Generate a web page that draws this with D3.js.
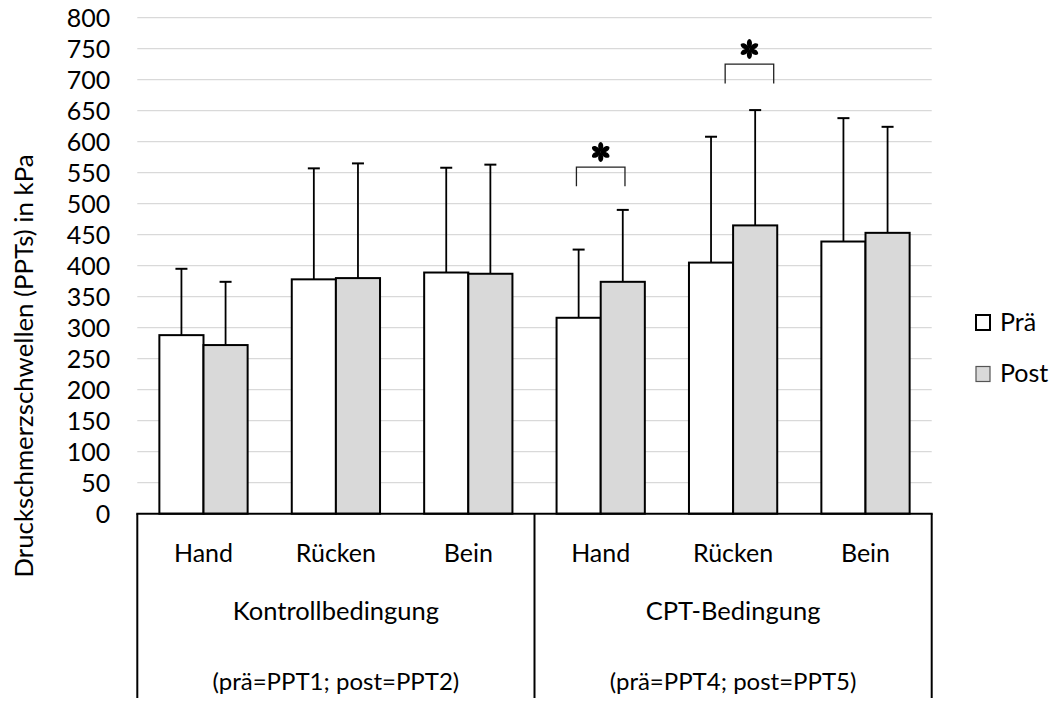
<!DOCTYPE html>
<html>
<head>
<meta charset="utf-8">
<script src="https://cdn.jsdelivr.net/npm/d3@7"></script>
<style>
  html, body { margin: 0; padding: 0; background: #fff; }
  svg text { font-family: Lato, "Open Sans", sans-serif; fill: #000; }
</style>
</head>
<body>
<svg id="chart" width="1059" height="704"></svg>
<script>
// Pressure pain thresholds per body site, before and after, for two conditions
const groups = ["Kontrollbedingung", "CPT-Bedingung"];
const groupNotes = ["(prä=PPT1; post=PPT2)", "(prä=PPT4; post=PPT5)"];
const sites = ["Hand", "Rücken", "Bein"];
const seriesNames = ["Prä", "Post"];

// means (kPa), in order Kontroll Hand/Rücken/Bein, CPT Hand/Rücken/Bein
const praeMeans = [288, 378, 389, 316, 405, 439];
const postMeans = [272, 380, 387, 374, 465, 453];
// standard deviations (upper error bars only)
const praeSD = [107, 179, 169, 110, 203, 199];
const postSD = [102, 185, 176, 116, 186, 171];

const yTicks = d3.range(0, 801, 50);

// significance markers: bracket level, leg foot level, horizontal shift in bar widths
const sigGroups = ["CPT-Bedingung", "CPT-Bedingung"];
const sigSites = ["Hand", "Rücken"];
const sigTop = [559, 725];
const sigFoot = [528, 694];
const sigShift = [0.0, 0.37];

const svg = d3.select("#chart");
const plot = { left: 137.3, right: 931.7, top: 17.7, bottom: 513.7 };

const cats = [];
groups.forEach(g => sites.forEach(s => cats.push(g + "|" + s)));

const x = d3.scaleBand().domain(cats).range([plot.left, plot.right]).padding(0);
const xs = d3.scaleBand().domain(seriesNames).range([0, x.bandwidth()])
  .paddingInner(0).paddingOuter(0.5);
const y = d3.scaleLinear().domain([0, 800]).range([plot.bottom, plot.top]);

// horizontal gridlines
svg.append("g").selectAll("line").data(yTicks.filter(v => v > 0)).join("line")
  .attr("x1", plot.left).attr("x2", plot.right)
  .attr("y1", d => y(d)).attr("y2", d => y(d))
  .attr("stroke", "#d9d9d9").attr("stroke-width", 1.3);

// y axis tick labels
const yAxis = d3.axisLeft(y).tickValues(yTicks).tickSize(0).tickPadding(0);
const yg = svg.append("g").attr("transform", `translate(${plot.left - 27},0)`).call(yAxis);
yg.select(".domain").remove();
yg.selectAll("text").attr("font-size", 25).attr("font-family", "Lato, sans-serif")
  .attr("fill", "#000").attr("dy", "0.36em");

// y axis title
svg.append("text")
  .attr("transform", `translate(33,366) rotate(-90)`)
  .attr("text-anchor", "middle")
  .attr("font-size", 25.8)
  .text("Druckschmerzschwellen (PPTs) in kPa");

// bars
const rows = cats.map((c, i) => ({ cat: c, vals: [
  { s: "Prä", v: praeMeans[i], sd: praeSD[i] },
  { s: "Post", v: postMeans[i], sd: postSD[i] }
]}));

const gBars = svg.append("g");
const cg = gBars.selectAll("g").data(rows).join("g")
  .attr("transform", d => `translate(${x(d.cat)},0)`);

// error bars (drawn first so the bar outline covers the stem foot)
cg.selectAll("line.stem").data(d => d.vals).join("line").attr("class", "stem")
  .attr("x1", d => xs(d.s) + xs.bandwidth() / 2).attr("x2", d => xs(d.s) + xs.bandwidth() / 2)
  .attr("y1", d => y(d.v)).attr("y2", d => y(d.v + d.sd))
  .attr("stroke", "#000").attr("stroke-width", 1.8);
cg.selectAll("line.cap").data(d => d.vals).join("line").attr("class", "cap")
  .attr("x1", d => xs(d.s) + xs.bandwidth() / 2 - 6).attr("x2", d => xs(d.s) + xs.bandwidth() / 2 + 6)
  .attr("y1", d => y(d.v + d.sd)).attr("y2", d => y(d.v + d.sd))
  .attr("stroke", "#000").attr("stroke-width", 2);

cg.selectAll("rect").data(d => d.vals).join("rect")
  .attr("x", d => xs(d.s)).attr("width", xs.bandwidth())
  .attr("y", d => y(d.v)).attr("height", d => y(0) - y(d.v))
  .attr("fill", d => d.s === "Prä" ? "#ffffff" : "#d9d9d9")
  .attr("stroke", "#000").attr("stroke-width", 2);

// multi-level category axis frame
const frameBottom = 698;
const ax = svg.append("g").attr("stroke", "#000").attr("stroke-width", 2);
ax.append("line").attr("x1", plot.left - 1).attr("x2", plot.right + 1)
  .attr("y1", plot.bottom).attr("y2", plot.bottom);
const bounds = [plot.left, x(groups[1] + "|" + sites[0]), plot.right];
ax.selectAll("line.sep").data(bounds).join("line").attr("class", "sep")
  .attr("x1", d => d).attr("x2", d => d)
  .attr("y1", plot.bottom).attr("y2", frameBottom);

// site labels
svg.append("g").selectAll("text").data(cats).join("text")
  .attr("x", d => x(d) + x.bandwidth() / 2).attr("y", 561.5)
  .attr("text-anchor", "middle").attr("font-size", 25)
  .text(d => d.split("|")[1]);

// condition labels
const groupCenter = g => {
  const a = x(g + "|" + sites[0]);
  const b = x(g + "|" + sites[sites.length - 1]) + x.bandwidth();
  return (a + b) / 2;
};
svg.append("g").selectAll("text").data(groups).join("text")
  .attr("x", d => groupCenter(d)).attr("y", 619.5)
  .attr("text-anchor", "middle").attr("font-size", 25.5).text(d => d);
svg.append("g").selectAll("text").data(groups).join("text")
  .attr("x", d => groupCenter(d)).attr("y", 690)
  .attr("text-anchor", "middle").attr("font-size", 24).text((d, i) => groupNotes[i]);

// significance brackets with asterisks
const bw = xs.bandwidth();
const petal = "M0,0 C-3.4,-3 -3.4,-9 0,-10 C3.4,-9 3.4,-3 0,0 Z";
sigSites.forEach((s, i) => {
  const cat = sigGroups[i] + "|" + s;
  const cx = x(cat) + x.bandwidth() / 2 + sigShift[i] * bw;
  const half = bw * 0.55;
  svg.append("path")
    .attr("d", `M${cx - half},${y(sigFoot[i])} V${y(sigTop[i])} H${cx + half} V${y(sigFoot[i])}`)
    .attr("fill", "none").attr("stroke", "#222").attr("stroke-width", 1.3);
  const star = svg.append("g")
    .attr("transform", `translate(${cx},${y(sigTop[i] + 24.5)})`);
  star.selectAll("path").data(d3.range(6)).join("path")
    .attr("d", petal).attr("transform", k => `rotate(${k * 60})`).attr("fill", "#000");
});

// legend
const legend = svg.append("g");
const lg = legend.selectAll("g").data(seriesNames).join("g")
  .attr("transform", (d, i) => `translate(976,${315 + i * 51.5})`);
lg.append("rect").attr("width", 14).attr("height", 15)
  .attr("fill", d => d === "Prä" ? "#fff" : "#d9d9d9")
  .attr("stroke", d => d === "Prä" ? "#000" : "#555")
  .attr("stroke-width", d => d === "Prä" ? 2 : 1.2);
lg.append("text").attr("x", 24).attr("y", 15.7).attr("font-size", 25).text(d => d);
</script>
</body>
</html>
